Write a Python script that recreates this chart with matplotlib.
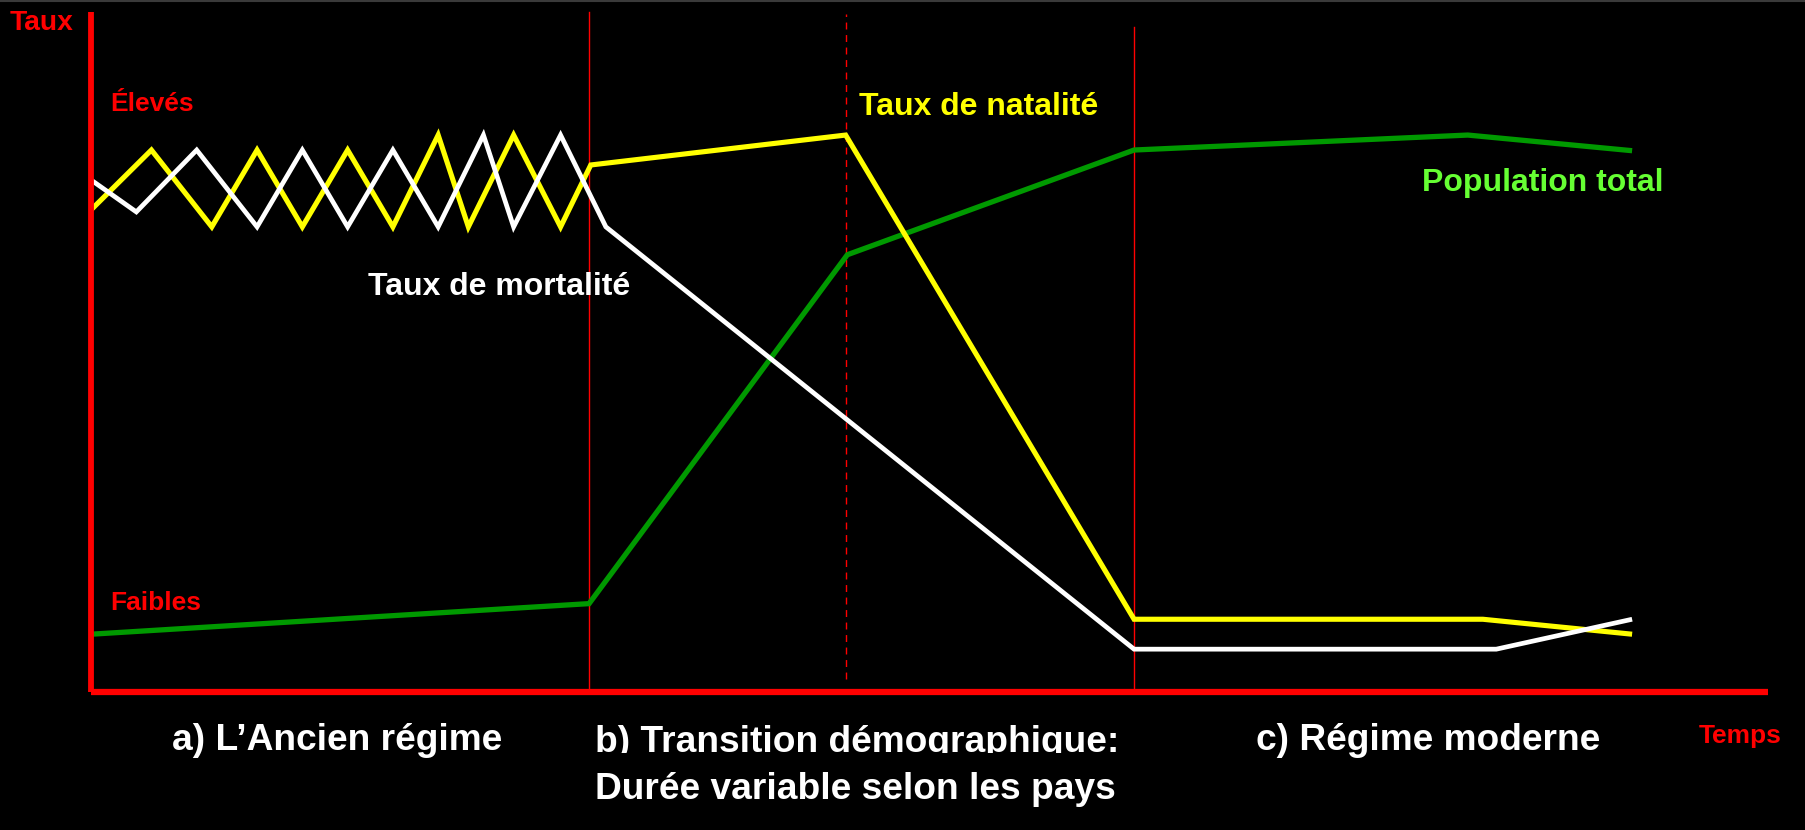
import matplotlib
matplotlib.use("Agg")
import matplotlib.pyplot as plt
from matplotlib.lines import Line2D
from matplotlib.transforms import Bbox, TransformedBbox

# time axis 0..100, rate axis 0..100
natalite_x = [0, 3.6, 7.2, 9.9, 12.6, 15.3, 18.0, 20.7, 22.5, 25.2, 28.0, 29.8, 45.0, 62.2, 83.0, 91.9]
natalite_y = [70.9, 79.7, 68.4, 79.7, 68.4, 79.7, 68.4, 81.9, 68.4, 81.9, 68.4, 77.5, 81.9, 10.7, 10.7, 8.5]

mortalite_x = [0, 2.7, 6.3, 9.9, 12.6, 15.3, 18.0, 20.7, 23.4, 25.2, 28.0, 30.7, 62.2, 83.8, 91.9]
mortalite_y = [75.3, 70.6, 79.7, 68.4, 79.7, 68.4, 79.7, 68.4, 81.9, 68.4, 81.9, 68.4, 6.3, 6.3, 10.7]

population_x = [0, 29.7, 45.1, 62.2, 82.1, 91.9]
population_y = [8.5, 13.0, 64.3, 79.7, 81.9, 79.6]

phase_limits = [29.7, 62.2]   # solid separators
peak_natalite = 45.0          # dashed separator

RED = "#FF0000"
FONT = "Liberation Sans"

fig = plt.figure(figsize=(18.06, 8.30), dpi=100, facecolor="black")
ax = fig.add_axes([0, 0, 1, 1])
ax.set_facecolor("black")
ax.set_xlim(-5.43, 102.27)
ax.set_ylim(-20.29, 101.76)
ax.axis("off")

# thin grey border at the very top
fig.add_artist(Line2D([0, 1], [0.999, 0.999], transform=fig.transFigure,
                      color="#3a3a3a", lw=1.5))

# separators
ax.plot([phase_limits[0]] * 2, [0, 100], color=RED, lw=1.0, zorder=1)
ax.plot([phase_limits[1]] * 2, [0, 97.8], color=RED, lw=1.0, zorder=1)
ax.plot([peak_natalite] * 2, [1.9, 99.7], color=RED, lw=1.0,
        linestyle=(0, (5, 4)), zorder=1)

# axes
ax.plot([0, 0], [0, 100], color=RED, lw=4.2, solid_capstyle="butt", zorder=5)
ax.plot([0, 100], [0, 0], color=RED, lw=4.5, solid_capstyle="butt", zorder=5)

# curves
ax.plot(population_x, population_y, color="#009900", lw=3.8,
        solid_joinstyle="miter", solid_capstyle="butt", zorder=2)
ax.plot(natalite_x, natalite_y, color="#FFFF00", lw=3.7,
        solid_joinstyle="miter", solid_capstyle="butt", zorder=3)
ax.plot(mortalite_x, mortalite_y, color="white", lw=3.4,
        solid_joinstyle="miter", solid_capstyle="butt", zorder=4)

# labels
small = dict(fontfamily=FONT, fontweight="bold", fontsize=19, color=RED, va="baseline")
ax.text(-4.83, 97.35, "Taux", **dict(small, fontsize=20.3))
ax.text(1.17, 85.5, "Élevés", **small)
ax.text(1.17, 12.06, "Faibles", **small)
ax.text(95.9, -7.5, "Temps", **small)

mid = dict(fontfamily=FONT, fontweight="bold", fontsize=23, va="baseline")
ax.text(45.8, 84.85, "Taux de natalité", color="#FFFF00", **mid)
ax.text(16.5, 58.4, "Taux de mortalité", color="white", **mid)
ax.text(79.4, 73.7, "Population total", color="#66FF33", **mid)

big = dict(fontfamily=FONT, fontweight="bold", fontsize=26.7, color="white", va="baseline")
ax.text(4.83, -8.53, "a) L\u2019Ancien régime", **big)
t = ax.text(30.05, -8.8, "b) Transition démographique:", **big)
t.set_clip_box(TransformedBbox(Bbox([[20, -8.97], [80, 0]]), ax.transData))
t.set_clip_on(True)
ax.text(30.05, -15.7, "Durée variable selon les pays", **big)
ax.text(69.5, -8.53, "c) Régime moderne", **big)

fig.savefig("out.png", dpi=100, facecolor="black")
